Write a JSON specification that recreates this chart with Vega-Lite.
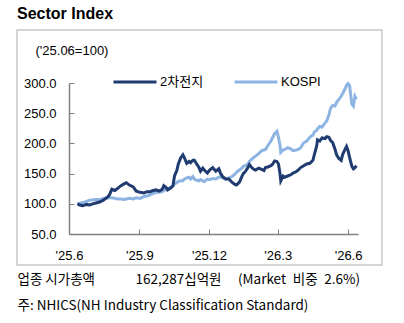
{
  "$schema": "https://vega.github.io/schema/vega-lite/v6.json",
  "width": 365,
  "height": 235,
  "autosize": {"type": "none"},
  "padding": {"left": 17, "top": 30, "right": 22, "bottom": 58},
  "background": "white",
  "config": {
    "view": {"stroke": "#C8C8C8", "strokeWidth": 1.5},
    "font": "Liberation Sans"
  },
  "title": {
    "text": "Sector Index",
    "anchor": "start",
    "frame": "group",
    "font": "Liberation Sans",
    "fontSize": 16,
    "fontWeight": "bold",
    "color": "#000000",
    "offset": 8
  },
  "datasets": {
    "kospi": [
      {"date": "2025-06-12", "series": "KOSPI", "value": 100},
      {"date": "2025-06-15", "series": "KOSPI", "value": 101},
      {"date": "2025-06-19", "series": "KOSPI", "value": 102},
      {"date": "2025-06-24", "series": "KOSPI", "value": 104},
      {"date": "2025-06-28", "series": "KOSPI", "value": 106},
      {"date": "2025-07-05", "series": "KOSPI", "value": 107},
      {"date": "2025-07-11", "series": "KOSPI", "value": 107},
      {"date": "2025-07-16", "series": "KOSPI", "value": 109},
      {"date": "2025-07-22", "series": "KOSPI", "value": 110},
      {"date": "2025-07-24", "series": "KOSPI", "value": 110},
      {"date": "2025-07-27", "series": "KOSPI", "value": 110},
      {"date": "2025-07-31", "series": "KOSPI", "value": 109},
      {"date": "2025-08-04", "series": "KOSPI", "value": 108},
      {"date": "2025-08-08", "series": "KOSPI", "value": 108},
      {"date": "2025-08-12", "series": "KOSPI", "value": 107},
      {"date": "2025-08-15", "series": "KOSPI", "value": 108},
      {"date": "2025-08-19", "series": "KOSPI", "value": 109},
      {"date": "2025-08-24", "series": "KOSPI", "value": 108},
      {"date": "2025-08-28", "series": "KOSPI", "value": 110},
      {"date": "2025-09-02", "series": "KOSPI", "value": 109},
      {"date": "2025-09-07", "series": "KOSPI", "value": 112},
      {"date": "2025-09-11", "series": "KOSPI", "value": 113},
      {"date": "2025-09-15", "series": "KOSPI", "value": 115},
      {"date": "2025-09-19", "series": "KOSPI", "value": 117},
      {"date": "2025-09-23", "series": "KOSPI", "value": 119},
      {"date": "2025-09-27", "series": "KOSPI", "value": 119},
      {"date": "2025-10-01", "series": "KOSPI", "value": 120},
      {"date": "2025-10-03", "series": "KOSPI", "value": 122},
      {"date": "2025-10-06", "series": "KOSPI", "value": 124},
      {"date": "2025-10-08", "series": "KOSPI", "value": 125},
      {"date": "2025-10-12", "series": "KOSPI", "value": 127},
      {"date": "2025-10-15", "series": "KOSPI", "value": 129},
      {"date": "2025-10-17", "series": "KOSPI", "value": 133},
      {"date": "2025-10-20", "series": "KOSPI", "value": 135},
      {"date": "2025-10-22", "series": "KOSPI", "value": 137},
      {"date": "2025-10-25", "series": "KOSPI", "value": 138},
      {"date": "2025-10-28", "series": "KOSPI", "value": 138},
      {"date": "2025-10-30", "series": "KOSPI", "value": 141},
      {"date": "2025-11-02", "series": "KOSPI", "value": 143},
      {"date": "2025-11-05", "series": "KOSPI", "value": 144},
      {"date": "2025-11-07", "series": "KOSPI", "value": 141},
      {"date": "2025-11-10", "series": "KOSPI", "value": 145},
      {"date": "2025-11-12", "series": "KOSPI", "value": 141},
      {"date": "2025-11-15", "series": "KOSPI", "value": 139},
      {"date": "2025-11-18", "series": "KOSPI", "value": 138},
      {"date": "2025-11-20", "series": "KOSPI", "value": 140},
      {"date": "2025-11-23", "series": "KOSPI", "value": 138},
      {"date": "2025-11-25", "series": "KOSPI", "value": 137},
      {"date": "2025-11-29", "series": "KOSPI", "value": 141},
      {"date": "2025-12-02", "series": "KOSPI", "value": 140},
      {"date": "2025-12-06", "series": "KOSPI", "value": 142},
      {"date": "2025-12-10", "series": "KOSPI", "value": 141},
      {"date": "2025-12-14", "series": "KOSPI", "value": 144},
      {"date": "2025-12-16", "series": "KOSPI", "value": 145},
      {"date": "2025-12-19", "series": "KOSPI", "value": 143},
      {"date": "2025-12-23", "series": "KOSPI", "value": 141},
      {"date": "2025-12-27", "series": "KOSPI", "value": 143},
      {"date": "2025-12-31", "series": "KOSPI", "value": 145},
      {"date": "2026-01-04", "series": "KOSPI", "value": 149},
      {"date": "2026-01-06", "series": "KOSPI", "value": 152},
      {"date": "2026-01-10", "series": "KOSPI", "value": 156},
      {"date": "2026-01-13", "series": "KOSPI", "value": 159},
      {"date": "2026-01-15", "series": "KOSPI", "value": 162},
      {"date": "2026-01-18", "series": "KOSPI", "value": 163},
      {"date": "2026-01-21", "series": "KOSPI", "value": 166},
      {"date": "2026-01-23", "series": "KOSPI", "value": 170},
      {"date": "2026-01-26", "series": "KOSPI", "value": 174},
      {"date": "2026-01-29", "series": "KOSPI", "value": 177},
      {"date": "2026-01-31", "series": "KOSPI", "value": 179},
      {"date": "2026-02-04", "series": "KOSPI", "value": 183},
      {"date": "2026-02-08", "series": "KOSPI", "value": 188},
      {"date": "2026-02-11", "series": "KOSPI", "value": 189},
      {"date": "2026-02-13", "series": "KOSPI", "value": 190},
      {"date": "2026-02-16", "series": "KOSPI", "value": 196},
      {"date": "2026-02-20", "series": "KOSPI", "value": 204},
      {"date": "2026-02-22", "series": "KOSPI", "value": 209},
      {"date": "2026-02-25", "series": "KOSPI", "value": 216},
      {"date": "2026-02-28", "series": "KOSPI", "value": 220},
      {"date": "2026-03-02", "series": "KOSPI", "value": 210},
      {"date": "2026-03-04", "series": "KOSPI", "value": 197},
      {"date": "2026-03-05", "series": "KOSPI", "value": 185},
      {"date": "2026-03-08", "series": "KOSPI", "value": 189},
      {"date": "2026-03-10", "series": "KOSPI", "value": 190},
      {"date": "2026-03-14", "series": "KOSPI", "value": 193},
      {"date": "2026-03-18", "series": "KOSPI", "value": 191},
      {"date": "2026-03-21", "series": "KOSPI", "value": 188},
      {"date": "2026-03-25", "series": "KOSPI", "value": 189},
      {"date": "2026-03-28", "series": "KOSPI", "value": 190},
      {"date": "2026-03-31", "series": "KOSPI", "value": 193},
      {"date": "2026-04-04", "series": "KOSPI", "value": 201},
      {"date": "2026-04-08", "series": "KOSPI", "value": 204},
      {"date": "2026-04-12", "series": "KOSPI", "value": 210},
      {"date": "2026-04-16", "series": "KOSPI", "value": 214},
      {"date": "2026-04-18", "series": "KOSPI", "value": 219},
      {"date": "2026-04-21", "series": "KOSPI", "value": 222},
      {"date": "2026-04-22", "series": "KOSPI", "value": 224},
      {"date": "2026-04-25", "series": "KOSPI", "value": 228},
      {"date": "2026-04-28", "series": "KOSPI", "value": 227},
      {"date": "2026-05-02", "series": "KOSPI", "value": 234},
      {"date": "2026-05-04", "series": "KOSPI", "value": 237},
      {"date": "2026-05-07", "series": "KOSPI", "value": 247},
      {"date": "2026-05-09", "series": "KOSPI", "value": 258},
      {"date": "2026-05-12", "series": "KOSPI", "value": 263},
      {"date": "2026-05-15", "series": "KOSPI", "value": 262},
      {"date": "2026-05-17", "series": "KOSPI", "value": 268},
      {"date": "2026-05-20", "series": "KOSPI", "value": 273},
      {"date": "2026-05-23", "series": "KOSPI", "value": 278},
      {"date": "2026-05-25", "series": "KOSPI", "value": 283},
      {"date": "2026-05-28", "series": "KOSPI", "value": 290},
      {"date": "2026-05-30", "series": "KOSPI", "value": 296},
      {"date": "2026-06-01", "series": "KOSPI", "value": 299},
      {"date": "2026-06-03", "series": "KOSPI", "value": 296},
      {"date": "2026-06-04", "series": "KOSPI", "value": 285},
      {"date": "2026-06-06", "series": "KOSPI", "value": 265},
      {"date": "2026-06-08", "series": "KOSPI", "value": 262},
      {"date": "2026-06-10", "series": "KOSPI", "value": 278},
      {"date": "2026-06-12", "series": "KOSPI", "value": 273}
    ],
    "battery": [
      {"date": "2025-06-12", "series": "2차전지", "value": 100},
      {"date": "2025-06-15", "series": "2차전지", "value": 98},
      {"date": "2025-06-19", "series": "2차전지", "value": 97},
      {"date": "2025-06-24", "series": "2차전지", "value": 99},
      {"date": "2025-06-28", "series": "2차전지", "value": 98},
      {"date": "2025-07-05", "series": "2차전지", "value": 101},
      {"date": "2025-07-11", "series": "2차전지", "value": 103},
      {"date": "2025-07-16", "series": "2차전지", "value": 106},
      {"date": "2025-07-22", "series": "2차전지", "value": 112},
      {"date": "2025-07-24", "series": "2차전지", "value": 115},
      {"date": "2025-07-27", "series": "2차전지", "value": 124},
      {"date": "2025-07-31", "series": "2차전지", "value": 122},
      {"date": "2025-08-04", "series": "2차전지", "value": 126},
      {"date": "2025-08-08", "series": "2차전지", "value": 130},
      {"date": "2025-08-12", "series": "2차전지", "value": 133},
      {"date": "2025-08-15", "series": "2차전지", "value": 135},
      {"date": "2025-08-19", "series": "2차전지", "value": 131},
      {"date": "2025-08-24", "series": "2차전지", "value": 128},
      {"date": "2025-08-28", "series": "2차전지", "value": 121},
      {"date": "2025-09-02", "series": "2차전지", "value": 119},
      {"date": "2025-09-07", "series": "2차전지", "value": 118},
      {"date": "2025-09-11", "series": "2차전지", "value": 120},
      {"date": "2025-09-15", "series": "2차전지", "value": 120},
      {"date": "2025-09-19", "series": "2차전지", "value": 122},
      {"date": "2025-09-23", "series": "2차전지", "value": 123},
      {"date": "2025-09-27", "series": "2차전지", "value": 121},
      {"date": "2025-10-01", "series": "2차전지", "value": 124},
      {"date": "2025-10-03", "series": "2차전지", "value": 130},
      {"date": "2025-10-06", "series": "2차전지", "value": 127},
      {"date": "2025-10-08", "series": "2차전지", "value": 123},
      {"date": "2025-10-12", "series": "2차전지", "value": 126},
      {"date": "2025-10-15", "series": "2차전지", "value": 130},
      {"date": "2025-10-17", "series": "2차전지", "value": 146},
      {"date": "2025-10-20", "series": "2차전지", "value": 155},
      {"date": "2025-10-22", "series": "2차전지", "value": 166},
      {"date": "2025-10-25", "series": "2차전지", "value": 176},
      {"date": "2025-10-28", "series": "2차전지", "value": 181},
      {"date": "2025-10-30", "series": "2차전지", "value": 176},
      {"date": "2025-11-02", "series": "2차전지", "value": 167},
      {"date": "2025-11-05", "series": "2차전지", "value": 170},
      {"date": "2025-11-07", "series": "2차전지", "value": 168},
      {"date": "2025-11-10", "series": "2차전지", "value": 172},
      {"date": "2025-11-12", "series": "2차전지", "value": 172},
      {"date": "2025-11-15", "series": "2차전지", "value": 166},
      {"date": "2025-11-18", "series": "2차전지", "value": 160},
      {"date": "2025-11-20", "series": "2차전지", "value": 154},
      {"date": "2025-11-23", "series": "2차전지", "value": 159},
      {"date": "2025-11-25", "series": "2차전지", "value": 156},
      {"date": "2025-11-29", "series": "2차전지", "value": 151},
      {"date": "2025-12-02", "series": "2차전지", "value": 156},
      {"date": "2025-12-06", "series": "2차전지", "value": 160},
      {"date": "2025-12-10", "series": "2차전지", "value": 154},
      {"date": "2025-12-14", "series": "2차전지", "value": 158},
      {"date": "2025-12-16", "series": "2차전지", "value": 151},
      {"date": "2025-12-19", "series": "2차전지", "value": 145},
      {"date": "2025-12-23", "series": "2차전지", "value": 141},
      {"date": "2025-12-27", "series": "2차전지", "value": 141},
      {"date": "2025-12-31", "series": "2차전지", "value": 136},
      {"date": "2026-01-04", "series": "2차전지", "value": 132},
      {"date": "2026-01-06", "series": "2차전지", "value": 131},
      {"date": "2026-01-10", "series": "2차전지", "value": 136},
      {"date": "2026-01-13", "series": "2차전지", "value": 145},
      {"date": "2026-01-15", "series": "2차전지", "value": 150},
      {"date": "2026-01-18", "series": "2차전지", "value": 154},
      {"date": "2026-01-21", "series": "2차전지", "value": 160},
      {"date": "2026-01-23", "series": "2차전지", "value": 165},
      {"date": "2026-01-26", "series": "2차전지", "value": 160},
      {"date": "2026-01-29", "series": "2차전지", "value": 157},
      {"date": "2026-01-31", "series": "2차전지", "value": 156},
      {"date": "2026-02-04", "series": "2차전지", "value": 159},
      {"date": "2026-02-08", "series": "2차전지", "value": 157},
      {"date": "2026-02-11", "series": "2차전지", "value": 155},
      {"date": "2026-02-13", "series": "2차전지", "value": 160},
      {"date": "2026-02-16", "series": "2차전지", "value": 161},
      {"date": "2026-02-20", "series": "2차전지", "value": 163},
      {"date": "2026-02-22", "series": "2차전지", "value": 165},
      {"date": "2026-02-25", "series": "2차전지", "value": 171},
      {"date": "2026-02-28", "series": "2차전지", "value": 170},
      {"date": "2026-03-02", "series": "2차전지", "value": 166},
      {"date": "2026-03-04", "series": "2차전지", "value": 150},
      {"date": "2026-03-05", "series": "2차전지", "value": 138},
      {"date": "2026-03-08", "series": "2차전지", "value": 146},
      {"date": "2026-03-10", "series": "2차전지", "value": 144},
      {"date": "2026-03-14", "series": "2차전지", "value": 146},
      {"date": "2026-03-18", "series": "2차전지", "value": 148},
      {"date": "2026-03-21", "series": "2차전지", "value": 151},
      {"date": "2026-03-25", "series": "2차전지", "value": 153},
      {"date": "2026-03-28", "series": "2차전지", "value": 156},
      {"date": "2026-03-31", "series": "2차전지", "value": 160},
      {"date": "2026-04-04", "series": "2차전지", "value": 163},
      {"date": "2026-04-08", "series": "2차전지", "value": 166},
      {"date": "2026-04-12", "series": "2차전지", "value": 167},
      {"date": "2026-04-16", "series": "2차전지", "value": 172},
      {"date": "2026-04-18", "series": "2차전지", "value": 182},
      {"date": "2026-04-21", "series": "2차전지", "value": 196},
      {"date": "2026-04-22", "series": "2차전지", "value": 206},
      {"date": "2026-04-25", "series": "2차전지", "value": 204},
      {"date": "2026-04-28", "series": "2차전지", "value": 209},
      {"date": "2026-05-02", "series": "2차전지", "value": 208},
      {"date": "2026-05-04", "series": "2차전지", "value": 211},
      {"date": "2026-05-07", "series": "2차전지", "value": 210},
      {"date": "2026-05-09", "series": "2차전지", "value": 205},
      {"date": "2026-05-12", "series": "2차전지", "value": 201},
      {"date": "2026-05-15", "series": "2차전지", "value": 190},
      {"date": "2026-05-17", "series": "2차전지", "value": 181},
      {"date": "2026-05-20", "series": "2차전지", "value": 175},
      {"date": "2026-05-23", "series": "2차전지", "value": 172},
      {"date": "2026-05-25", "series": "2차전지", "value": 182},
      {"date": "2026-05-28", "series": "2차전지", "value": 190},
      {"date": "2026-05-30", "series": "2차전지", "value": 195},
      {"date": "2026-06-01", "series": "2차전지", "value": 188},
      {"date": "2026-06-03", "series": "2차전지", "value": 177},
      {"date": "2026-06-06", "series": "2차전지", "value": 162},
      {"date": "2026-06-08", "series": "2차전지", "value": 158},
      {"date": "2026-06-10", "series": "2차전지", "value": 160},
      {"date": "2026-06-12", "series": "2차전지", "value": 163}
    ]
  },
  "encoding": {
    "x": {
      "field": "date",
      "type": "temporal",
      "scale": {
        "type": "utc",
        "domain": [
          {"year": 2025, "month": 6, "date": 1, "utc": true},
          {"year": 2026, "month": 6, "date": 14, "utc": true}
        ],
        "range": [52, 341]
      },
      "axis": {
        "orient": "bottom",
        "offset": -31,
        "values": [
          {"year": 2025, "month": 6, "date": 1, "utc": true},
          {"year": 2025, "month": 9, "date": 1, "utc": true},
          {"year": 2025, "month": 12, "date": 1, "utc": true},
          {"year": 2026, "month": 3, "date": 1, "utc": true},
          {"year": 2026, "month": 6, "date": 1, "utc": true}
        ],
        "format": "'%y.%-m",
        "labelFlush": false,
        "labelOverlap": false,
        "labelFont": "Liberation Sans",
        "labelFontSize": 13,
        "labelColor": "#000000",
        "labelPadding": 20,
        "grid": false,
        "domainColor": "#808080",
        "domainWidth": 1.5,
        "tickColor": "#808080",
        "tickWidth": 1,
        "tickSize": -5,
        "title": ["업종 시가총액\u2003\u2003\u2003162,287십억원\u2003\u00a0(Market\u2002비중\u20022.6%)", "주: NHICS(NH Industry Classification Standard)"],
        "titleFont": "Noto Sans CJK KR",
        "titleFontSize": 13.5,
        "titleFontWeight": "normal",
        "titleColor": "#000000",
        "titleAlign": "left",
        "titleBaseline": "top",
        "titleAngle": 0,
        "titleX": 0,
        "titleY": 38,
        "titleLineHeight": 26
      }
    },
    "y": {
      "field": "value",
      "type": "quantitative",
      "scale": {"domain": [50, 300], "range": [204, 53], "nice": false, "zero": false},
      "axis": {
        "orient": "left",
        "offset": -52,
        "values": [50, 100, 150, 200, 250, 300],
        "format": ".1f",
        "labelFont": "Liberation Sans",
        "labelFontSize": 13,
        "labelColor": "#000000",
        "labelPadding": 18,
        "grid": false,
        "domainColor": "#808080",
        "domainWidth": 1.5,
        "tickColor": "#808080",
        "tickSize": -5,
        "title": "('25.06=100)",
        "titleFont": "Liberation Sans",
        "titleFontSize": 13,
        "titleFontWeight": "normal",
        "titleColor": "#000000",
        "titleAngle": 0,
        "titleAlign": "left",
        "titleBaseline": "alphabetic",
        "titleX": -34,
        "titleY": 24
      }
    },
    "color": {
      "field": "series",
      "type": "nominal",
      "scale": {"domain": ["2차전지", "KOSPI"], "range": ["#1F3B70", "#8DB4E2"]},
      "legend": {
        "orient": "none",
        "legendX": 95,
        "legendY": 29,
        "direction": "horizontal",
        "title": null,
        "symbolType": "stroke",
        "symbolStrokeWidth": 3,
        "symbolSize": 1849,
        "labelFont": "Liberation Sans, Noto Sans CJK KR",
        "labelFontSize": 13,
        "labelColor": "#000000",
        "labelOffset": 2,
        "columnPadding": 24
      }
    }
  },
  "layer": [
    {"data": {"name": "kospi"}, "mark": {"type": "line", "strokeWidth": 3}},
    {"data": {"name": "battery"}, "mark": {"type": "line", "strokeWidth": 3}}
  ]
}
